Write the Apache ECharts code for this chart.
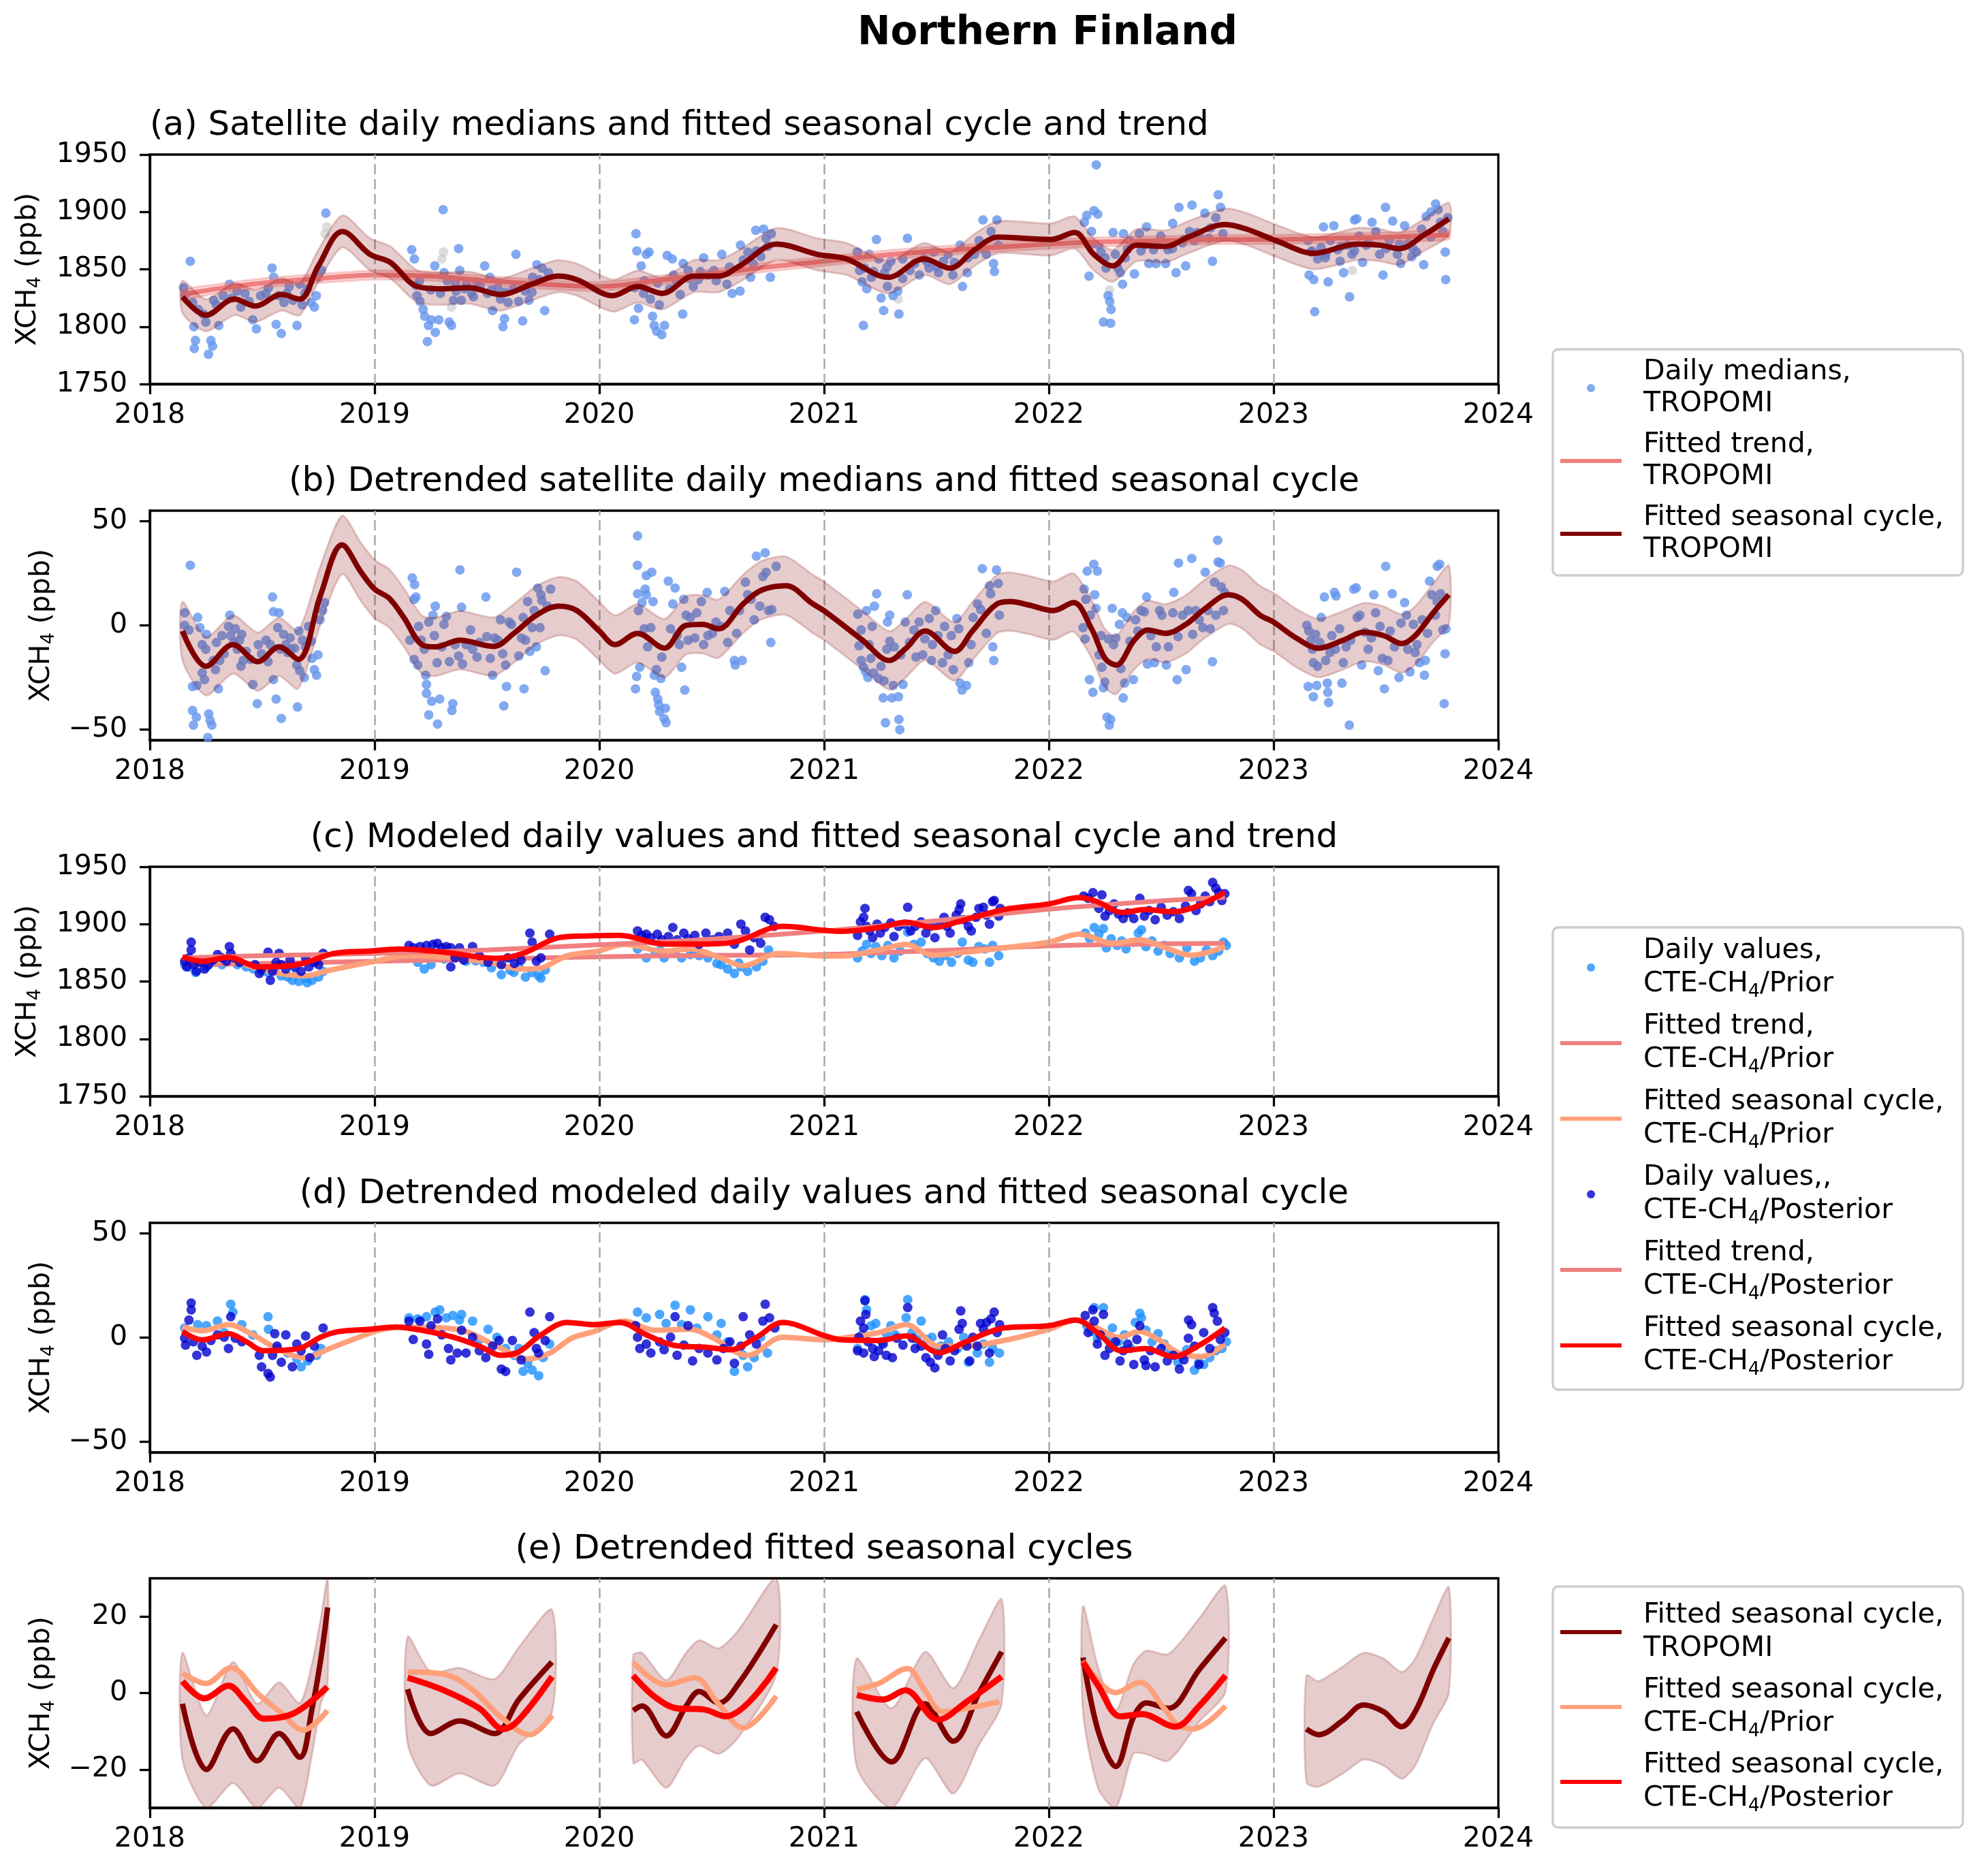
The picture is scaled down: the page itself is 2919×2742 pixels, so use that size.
<!DOCTYPE html>
<html>
<head>
<meta charset="utf-8">
<title>Northern Finland</title>
<script src="https://cdn.jsdelivr.net/npm/echarts@6/dist/echarts.min.js"></script>
<style>
  html, body { margin: 0; padding: 0; background: #fff; }
  #chart { width: 2919px; height: 2742px; }
</style>
</head>
<body>
<div id="chart"></div>
<script>
// values (x = decimal year)
const dividers = [2019, 2020, 2021, 2022, 2023]

// (a) TROPOMI daily medians, ppb
const tropDaily = [
  [2018.150,1834],[2018.157,1828],[2018.180,1857],[2018.191,1821],[2018.196,1800],[2018.203,1788],[2018.198,1781],[2018.215,1815],[2018.238,1811],[2018.249,1804],[2018.261,1776],[2018.272,1788],[2018.279,1783],[2018.284,1823],[2018.296,1819],[2018.307,1801],[2018.326,1827],[2018.354,1837],[2018.365,1825],[2018.388,1831],[2018.405,1817],[2018.423,1829],[2018.442,1822],[2018.458,1806],[2018.474,1798],[2018.493,1827],[2018.516,1829],[2018.528,1834],[2018.544,1851],[2018.551,1843],[2018.562,1802],[2018.574,1827],[2018.585,1794],[2018.597,1821],[2018.609,1829],[2018.620,1835],[2018.637,1823],[2018.655,1801],[2018.667,1837],[2018.678,1819],[2018.690,1829],[2018.702,1833],[2018.718,1821],[2018.732,1817],[2018.741,1827],[2018.753,1843],[2018.764,1849],[2018.783,1899],
  [2019.165,1867],[2019.177,1859],[2019.184,1836],[2019.189,1827],[2019.202,1822],[2019.216,1815],[2019.223,1809],[2019.235,1787],[2019.240,1801],[2019.253,1806],[2019.270,1795],[2019.268,1853],[2019.286,1806],[2019.293,1829],[2019.305,1902],[2019.309,1847],[2019.323,1840],[2019.332,1804],[2019.342,1801],[2019.351,1823],[2019.363,1831],[2019.374,1868],[2019.379,1849],[2019.386,1823],[2019.409,1837],[2019.432,1829],[2019.455,1839],[2019.490,1853],[2019.502,1829],[2019.513,1843],[2019.525,1814],[2019.548,1834],[2019.560,1824],[2019.571,1800],[2019.578,1807],[2019.594,1821],[2019.617,1833],[2019.629,1863],[2019.641,1822],[2019.659,1805],[2019.671,1831],[2019.687,1823],[2019.703,1843],[2019.722,1854],[2019.733,1841],[2019.745,1851],[2019.757,1814],[2019.773,1847],
  [2019.200,1840],[2019.250,1832],[2019.360,1838],[2019.400,1833],[2019.440,1826],[2019.470,1836],[2019.520,1832],[2019.580,1830],[2019.660,1836],[2019.700,1830],
  [2020.158,1834],[2020.163,1881],[2020.167,1866],[2020.156,1806],[2020.174,1816],[2020.186,1853],[2020.197,1829],[2020.209,1863],[2020.221,1865],[2020.227,1824],[2020.237,1809],[2020.244,1801],[2020.255,1796],[2020.267,1819],[2020.278,1793],[2020.290,1801],[2020.302,1862],[2020.313,1833],[2020.325,1859],[2020.343,1839],[2020.360,1828],[2020.371,1811],[2020.373,1855],[2020.395,1849],[2020.418,1835],[2020.441,1841],[2020.464,1860],[2020.487,1845],[2020.510,1849],[2020.545,1863],[2020.568,1837],[2020.591,1829],[2020.626,1831],[2020.628,1871],[2020.661,1865],[2020.673,1843],[2020.696,1884],[2020.731,1885],[2020.742,1877],[2020.761,1843],[2020.765,1881],[2020.719,1861],[2020.684,1855],
  [2020.200,1840],[2020.260,1838],[2020.330,1845],[2020.400,1842],[2020.450,1848],[2020.520,1840],[2020.580,1852],[2020.640,1858],[2020.700,1866],[2020.750,1870],
  [2021.148,1865],[2021.158,1849],[2021.169,1839],[2021.180,1851],[2021.190,1833],[2021.201,1863],[2021.211,1843],[2021.233,1876],[2021.243,1859],[2021.254,1825],[2021.265,1814],[2021.269,1847],[2021.282,1835],[2021.297,1857],[2021.307,1827],[2021.328,1831],[2021.333,1811],[2021.350,1859],[2021.371,1877],[2021.382,1849],[2021.403,1855],[2021.424,1845],[2021.445,1859],[2021.467,1851],[2021.488,1865],[2021.509,1847],[2021.531,1857],[2021.552,1863],[2021.573,1845],[2021.605,1871],[2021.616,1835],[2021.637,1847],[2021.669,1863],[2021.690,1875],[2021.707,1893],[2021.722,1863],[2021.743,1883],[2021.754,1855],[2021.758,1848],[2021.769,1893],[2021.775,1871],[2021.175,1801],
  [2021.220,1848],[2021.280,1852],[2021.350,1842],[2021.460,1856],[2021.500,1852],[2021.580,1856],[2021.640,1860],[2021.700,1868],
  [2022.158,1891],[2022.169,1897],[2022.179,1844],[2022.190,1883],[2022.201,1901],[2022.211,1941],[2022.218,1898],[2022.222,1871],[2022.232,1865],[2022.243,1804],[2022.254,1851],[2022.264,1827],[2022.271,1822],[2022.275,1803],[2022.277,1815],[2022.286,1882],[2022.296,1863],[2022.307,1851],[2022.318,1847],[2022.328,1837],[2022.332,1881],[2022.349,1867],[2022.360,1875],[2022.381,1846],[2022.403,1881],[2022.424,1871],[2022.435,1887],[2022.445,1855],[2022.466,1867],[2022.477,1855],[2022.498,1879],[2022.520,1855],[2022.530,1867],[2022.551,1890],[2022.566,1847],[2022.579,1904],[2022.594,1873],[2022.609,1853],[2022.626,1883],[2022.637,1906],[2022.647,1875],[2022.669,1879],[2022.694,1899],[2022.711,1877],[2022.728,1857],[2022.743,1895],[2022.754,1915],[2022.764,1904],[2022.775,1881],
  [2022.190,1872],[2022.250,1860],[2022.340,1860],[2022.410,1866],[2022.480,1872],[2022.550,1868],[2022.600,1876],[2022.660,1882],[2022.720,1886],
  [2023.153,1875],[2023.158,1845],[2023.168,1865],[2023.179,1841],[2023.183,1813],[2023.196,1859],[2023.211,1869],[2023.222,1887],[2023.232,1863],[2023.243,1839],[2023.253,1875],[2023.268,1888],[2023.285,1867],[2023.296,1857],[2023.311,1847],[2023.328,1871],[2023.338,1826],[2023.349,1863],[2023.360,1893],[2023.370,1894],[2023.381,1879],[2023.396,1856],[2023.413,1871],[2023.438,1891],[2023.455,1883],[2023.472,1863],[2023.487,1845],[2023.498,1904],[2023.515,1875],[2023.530,1892],[2023.551,1863],[2023.566,1855],[2023.583,1888],[2023.600,1873],[2023.615,1861],[2023.636,1865],[2023.658,1885],[2023.668,1854],[2023.679,1896],[2023.700,1900],[2023.721,1907],[2023.732,1902],[2023.743,1891],[2023.753,1883],[2023.764,1865],[2023.766,1841],[2023.775,1895],
  [2023.170,1866],[2023.230,1860],[2023.300,1870],[2023.360,1866],[2023.420,1874],[2023.500,1868],[2023.560,1872],[2023.620,1868],[2023.700,1878]
]
const tropExcluded = [[2018.787,1887],[2018.780,1881],[2019.307,1865],[2019.300,1859],[2019.342,1817],[2021.330,1824],[2022.270,1832],[2023.350,1849]]

const trendX = [2018.145, 2018.3, 2018.5, 2018.75, 2019.0, 2019.25, 2019.5, 2019.75, 2020.0, 2020.25, 2020.5, 2020.75, 2021.0, 2021.25, 2021.5, 2021.75, 2022.0, 2022.25, 2022.5, 2022.75, 2023.0, 2023.25, 2023.5, 2023.78]
const tropTrend = [1828, 1833, 1838, 1842, 1845, 1844, 1840, 1837, 1835, 1840, 1846, 1852, 1857, 1862, 1866, 1869, 1872, 1874, 1875, 1876, 1876, 1877, 1878, 1880]
const trendBandHalf = 4

const seasAX = [2018.145, 2018.25, 2018.376, 2018.47, 2018.585, 2018.667, 2018.75, 2018.857, 2018.98, 2019.07, 2019.19, 2019.3, 2019.42, 2019.56, 2019.7, 2019.815, 2019.9, 2020.06, 2020.17, 2020.28, 2020.42, 2020.53, 2020.625, 2020.79, 2020.97, 2021.1, 2021.285, 2021.445, 2021.56, 2021.67, 2021.775, 2022.01, 2022.115, 2022.2, 2022.285, 2022.39, 2022.52, 2022.62, 2022.785, 2022.88, 2023.01, 2023.18, 2023.37, 2023.475, 2023.56, 2023.67, 2023.78]
const tropSeasA = [1826, 1810, 1824, 1818, 1828, 1824, 1853, 1883, 1863, 1856, 1835, 1833, 1834, 1828, 1837, 1844, 1841, 1827, 1835, 1829, 1844, 1844, 1853, 1872, 1863, 1859, 1843, 1859, 1851, 1867, 1878, 1876, 1882, 1863, 1853, 1871, 1870, 1878, 1889, 1885, 1875, 1864, 1872, 1871, 1868, 1880, 1894]
const seasBandHalf = 14

// (b) detrended TROPOMI daily medians, ppb
const tropDetrended = [
  [2018.180,28.8],[2018.155,6],[2018.155,0],[2018.174,-2.2],[2018.190,-29.3],[2018.190,-40.8],[2018.194,-47.8],[2018.207,-44],[2018.209,-28.8],[2018.213,3.8],[2018.223,-1.1],[2018.233,-9.2],[2018.233,-22.8],[2018.243,-26],[2018.249,-11.4],[2018.252,-4.3],[2018.258,-53.8],[2018.262,-42.4],[2018.268,-45.6],[2018.276,-47.8],[2018.282,-16.8],[2018.292,-21.2],[2018.296,-8.2],[2018.305,-30.4],[2018.311,-16.8],[2018.321,-4.9],[2018.331,-13.6],[2018.350,-0.5],[2018.356,4.9],[2018.360,-4.9],[2018.374,-8.2],[2018.380,-1.6],[2018.389,-11.4],[2018.399,-7.1],[2018.405,-19.6],[2018.409,-4.3],[2018.415,-16.8],[2018.429,-12.5],[2018.448,-16.3],[2018.458,-28.3],[2018.478,-37.5],[2018.483,-9.2],[2018.497,-13.6],[2018.517,-7.1],[2018.526,-17.4],[2018.536,-9.2],[2018.546,13.6],[2018.550,6.5],[2018.550,-26],[2018.562,-35.3],[2018.569,-1.1],[2018.575,6],[2018.581,-11.4],[2018.585,-44.6],[2018.595,-4.3],[2018.605,-9.2],[2018.614,-13],[2018.624,-6],[2018.628,-11.4],[2018.644,-10.9],[2018.654,-19],[2018.657,-39.1],[2018.663,-2.7],[2018.667,-21.7],[2018.679,-7.1],[2018.687,-25],[2018.693,-10.3],[2018.706,-0.5],[2018.718,-7.6],[2018.722,-15.8],[2018.732,-21.2],[2018.742,-23.9],[2018.748,-14.1],[2018.757,2.7],[2018.769,7.1],[2018.777,10.9],
  [2019.157,-7.1],[2019.168,22.8],[2019.178,19.6],[2019.176,12.5],[2019.176,-16.3],[2019.184,13.6],[2019.192,-19],[2019.196,-0.5],[2019.207,-7.1],[2019.221,-11.4],[2019.227,-23.9],[2019.231,-28.3],[2019.231,-32.6],[2019.241,-42.9],[2019.241,1.6],[2019.254,-36.4],[2019.260,4.9],[2019.266,-4.9],[2019.270,9.2],[2019.278,-17.9],[2019.280,-47.3],[2019.290,-35.3],[2019.299,-10.3],[2019.309,0.5],[2019.319,4.3],[2019.333,-17.4],[2019.344,-40.8],[2019.348,-37.5],[2019.358,-9.2],[2019.374,-14.7],[2019.380,26.6],[2019.387,8.7],[2019.391,-18.5],[2019.407,-9.2],[2019.427,-2.2],[2019.436,-11.4],[2019.456,-15.2],[2019.466,-8.2],[2019.495,13.6],[2019.499,-5.4],[2019.515,-15.8],[2019.525,-23.9],[2019.534,-6],[2019.548,-7.1],[2019.560,2.7],[2019.570,-13.6],[2019.575,-38.6],[2019.583,-19],[2019.587,-29.3],[2019.599,1.6],[2019.609,0.5],[2019.632,25.5],[2019.642,-14.7],[2019.654,-6],[2019.661,3.8],[2019.665,-30.4],[2019.671,-7.1],[2019.681,11.4],[2019.691,-12.5],[2019.701,-1.1],[2019.710,7.1],[2019.720,-10.3],[2019.726,17.9],[2019.736,-1.1],[2019.740,14.7],[2019.744,12],[2019.759,-21.7],[2019.769,9.2],[2019.783,17.4],
  [2020.161,-30.4],[2020.166,-24.5],[2020.170,42.9],[2020.170,28.8],[2020.170,15.2],[2020.174,7.1],[2020.180,-20.1],[2020.190,10.9],[2020.200,-1.6],[2020.204,17.4],[2020.209,14.7],[2020.209,23.9],[2020.215,-10.3],[2020.229,-1.1],[2020.233,25.5],[2020.239,11.4],[2020.245,-23.9],[2020.249,-32.1],[2020.254,-21.2],[2020.260,-35.3],[2020.264,-38],[2020.268,-41.3],[2020.274,-25.5],[2020.278,-15.2],[2020.288,-44.6],[2020.297,-46.7],[2020.294,-39.7],[2020.307,21.2],[2020.317,-1.6],[2020.327,10.3],[2020.337,17.9],[2020.346,-4.9],[2020.356,-9.2],[2020.366,-20.1],[2020.376,12.5],[2020.380,-31],[2020.386,4.9],[2020.395,-7.1],[2020.405,3.8],[2020.425,-6],[2020.434,6],[2020.454,11.4],[2020.464,-9.2],[2020.480,15.8],[2020.483,-4.9],[2020.503,-3.8],[2020.519,1.6],[2020.542,-0.5],[2020.558,16.3],[2020.571,-8.2],[2020.581,7.1],[2020.601,-16.8],[2020.605,-19],[2020.611,-3.8],[2020.624,7.1],[2020.636,-16.8],[2020.650,20.7],[2020.660,14.7],[2020.675,12.5],[2020.689,2.7],[2020.699,33.2],[2020.714,9.2],[2020.728,23.4],[2020.738,34.8],[2020.742,25.5],[2020.753,7.1],[2020.763,-8.2],[2020.767,7.6],[2020.787,28.3],
  [2021.150,5.4],[2021.156,-9.8],[2021.165,-2.2],[2021.165,-16.8],[2021.175,-20.1],[2021.185,-22.3],[2021.189,7.1],[2021.195,-25],[2021.200,-9.2],[2021.208,-15.8],[2021.214,-0.5],[2021.220,-22.8],[2021.224,9.2],[2021.234,15.2],[2021.243,-25.5],[2021.253,-19.6],[2021.263,-34.8],[2021.267,-26.6],[2021.273,-46.7],[2021.279,-11.4],[2021.282,1.6],[2021.292,4.9],[2021.292,-7.6],[2021.302,-34.8],[2021.308,-28.8],[2021.312,-10.3],[2021.331,-34.2],[2021.333,-45.1],[2021.337,-50],[2021.341,-14.1],[2021.351,-28.3],[2021.361,1.6],[2021.370,14.7],[2021.380,-8.2],[2021.400,-2.2],[2021.409,-15.2],[2021.423,1.6],[2021.439,-14.1],[2021.448,-6.5],[2021.468,3.3],[2021.478,-16.8],[2021.482,-9.2],[2021.497,7.1],[2021.507,-4.9],[2021.527,-17.9],[2021.536,-0.5],[2021.552,-14.1],[2021.566,-4.9],[2021.575,-21.2],[2021.591,3.3],[2021.599,-1.6],[2021.605,-27.7],[2021.614,-31],[2021.634,-28.8],[2021.644,-17.9],[2021.654,-9.2],[2021.663,3.8],[2021.683,10.3],[2021.697,7.6],[2021.704,27.2],[2021.722,-3.8],[2021.736,19],[2021.741,15.2],[2021.751,-10.3],[2021.755,-16.8],[2021.767,26.6],[2021.775,20.1],[2021.780,4.9],
  [2022.152,-1.1],[2022.157,17.4],[2022.161,-6.5],[2022.165,12.5],[2022.171,26],[2022.181,-26],[2022.185,4.9],[2022.196,-32.1],[2022.200,29.3],[2022.204,14.7],[2022.210,8.2],[2022.216,26],[2022.224,-14.1],[2022.232,-4.9],[2022.236,-20.1],[2022.243,-29.9],[2022.249,-27.2],[2022.259,-44],[2022.265,-6.5],[2022.269,-47.8],[2022.275,-45.1],[2022.282,8.2],[2022.288,-9.2],[2022.298,-6],[2022.314,0.5],[2022.321,-20.7],[2022.327,6],[2022.331,-34.8],[2022.337,-27.7],[2022.347,3.8],[2022.361,-7.6],[2022.376,-26],[2022.386,2.7],[2022.396,-2.7],[2022.411,7.1],[2022.425,6.5],[2022.435,13.6],[2022.439,-18.5],[2022.454,-4.9],[2022.470,-17.9],[2022.478,-10.3],[2022.493,7.1],[2022.503,4.9],[2022.523,-19],[2022.532,-10.3],[2022.552,6],[2022.556,15.8],[2022.571,-26],[2022.575,-5.4],[2022.577,29.9],[2022.595,4.9],[2022.611,-21.2],[2022.620,7.1],[2022.636,32.1],[2022.640,-4.3],[2022.653,7.1],[2022.669,2.7],[2022.685,-1.1],[2022.696,25.5],[2022.708,7.1],[2022.718,-1.6],[2022.728,-17.4],[2022.737,20.7],[2022.743,4.9],[2022.751,40.8],[2022.753,30.4],[2022.763,29.9],[2022.767,18.5],[2022.777,7.1],[2022.782,15.8],
  [2023.148,0],[2023.154,-29.3],[2023.157,-2.7],[2023.167,-7.1],[2023.173,-11.4],[2023.177,-34.2],[2023.177,-17.9],[2023.187,-4.3],[2023.192,-28.8],[2023.196,-19.6],[2023.206,-8.2],[2023.212,3.8],[2023.226,13.6],[2023.232,-16.8],[2023.239,-27.7],[2023.241,-32.1],[2023.245,-37],[2023.251,-13],[2023.259,-4.9],[2023.271,15.8],[2023.275,-11.4],[2023.278,14.1],[2023.294,-1.6],[2023.304,-27.7],[2023.310,-17.9],[2023.323,-10.3],[2023.337,-47.8],[2023.343,-7.1],[2023.357,17.4],[2023.368,18],[2023.372,3.8],[2023.384,4.9],[2023.392,-19],[2023.407,-3.3],[2023.421,-11.4],[2023.435,-6],[2023.446,14.7],[2023.454,6],[2023.466,-21.7],[2023.474,-0.5],[2023.484,-15.8],[2023.493,-30.4],[2023.499,28.3],[2023.509,-16.8],[2023.519,-2.7],[2023.528,15.2],[2023.538,-10.3],[2023.558,-25],[2023.567,1.1],[2023.583,10.9],[2023.591,4.9],[2023.597,-11.4],[2023.607,-22.3],[2023.622,0.5],[2023.630,-13],[2023.638,-9.2],[2023.650,-17.9],[2023.661,2.7],[2023.671,-23.9],[2023.675,-16.8],[2023.685,-3.8],[2023.694,21.2],[2023.704,14.7],[2023.720,4.9],[2023.728,11.4],[2023.728,28.3],[2023.739,29.3],[2023.743,15.2],[2023.753,-2.2],[2023.759,-37.5],[2023.763,-13.6],[2023.767,-1.6]
]
const seasBX = [2018.145, 2018.25, 2018.37, 2018.48, 2018.575, 2018.66, 2018.76, 2018.855, 2018.94, 2019.0, 2019.065, 2019.13, 2019.21, 2019.27, 2019.38, 2019.53, 2019.62, 2019.72, 2019.82, 2019.9, 2020.0, 2020.07, 2020.17, 2020.29, 2020.385, 2020.46, 2020.53, 2020.64, 2020.72, 2020.83, 2020.95, 2021.0, 2021.17, 2021.29, 2021.36, 2021.45, 2021.58, 2021.66, 2021.77, 2021.83, 2021.91, 2022.02, 2022.11, 2022.19, 2022.25, 2022.3, 2022.38, 2022.44, 2022.52, 2022.61, 2022.69, 2022.8, 2022.86, 2022.94, 2023.0, 2023.1, 2023.2, 2023.31, 2023.4, 2023.49, 2023.57, 2023.63, 2023.71, 2023.78]
const tropSeasB = [-2.7, -19.6, -9.2, -17.4, -10.3, -16.3, 14.7, 38.6, 25.5, 17.4, 13, 3.8, -9.2, -10.3, -7.1, -10.1, -3.8, 4.9, 9.2, 7.1, -2.7, -9.2, -3.8, -10.9, 0, 0.5, -1.6, 10.3, 16.8, 19, 10.3, 7, -7, -16.8, -11.4, -2.7, -12.5, -2.7, 10.3, 11.4, 9.8, 7.1, 10.9, -1.6, -15.8, -19, -7.1, -2.2, -3.8, 0.5, 7.6, 14.7, 12.5, 4.9, 1.6, -6, -10.9, -7.1, -3.3, -4.9, -8.7, -4.9, 6, 14.7]

// (c) CTE-CH4 daily values, ppb
const priorDaily = [
  [2018.155,1864.7],[2018.204,1857.8],[2018.252,1862.7],[2018.321,1864.7],[2018.389,1864.7],[2018.526,1857.8],[2018.585,1854.9],[2018.634,1851],[2018.663,1850],[2018.693,1853],[2018.722,1851],[2018.751,1853.9],[2018.771,1858.8],[2018.614,1853.9],[2018.556,1860.8],[2018.429,1862.7],[2018.174,1862.7],[2018.292,1866.7],[2018.460,1861],[2018.500,1859],[2018.650,1856],[2018.700,1849],
  [2019.221,1860.8],[2019.251,1864.7],[2019.407,1867.6],[2019.485,1866.7],[2019.564,1855.9],[2019.603,1859.8],[2019.642,1862.7],[2019.671,1853.9],[2019.701,1857.8],[2019.730,1854.9],[2019.740,1852.9],[2019.192,1866.7],[2019.309,1869.6],[2019.160,1872],[2019.280,1871],[2019.360,1872],[2019.450,1868],[2019.520,1862],[2019.620,1858],[2019.760,1860],
  [2020.170,1878.4],[2020.209,1870.6],[2020.249,1874.5],[2020.288,1870.6],[2020.337,1874.5],[2020.366,1870.6],[2020.405,1873.5],[2020.444,1872.5],[2020.483,1870.6],[2020.542,1864.7],[2020.571,1860.8],[2020.601,1856.9],[2020.630,1862.7],[2020.660,1858.8],[2020.699,1862.7],[2020.728,1867.6],[2020.753,1877.5],[2020.523,1865.7],[2020.190,1881],[2020.270,1877],[2020.420,1877],[2020.620,1866],
  [2021.149,1870.6],[2021.169,1876.5],[2021.189,1882.4],[2021.209,1874.5],[2021.230,1880.4],[2021.257,1872.5],[2021.284,1881.4],[2021.311,1870.6],[2021.338,1876.5],[2021.372,1893.1],[2021.399,1882.4],[2021.432,1884.3],[2021.459,1874.5],[2021.486,1870.6],[2021.513,1867.6],[2021.540,1872.5],[2021.567,1866.7],[2021.594,1874.5],[2021.615,1884.3],[2021.642,1868.6],[2021.662,1866.7],[2021.689,1880.4],[2021.716,1878.4],[2021.736,1866.7],[2021.750,1881.4],[2021.777,1872.5],
  [2022.162,1892.2],[2022.182,1887.3],[2022.202,1897.1],[2022.223,1891.2],[2022.243,1896.1],[2022.256,1879.4],[2022.277,1887.3],[2022.304,1881.4],[2022.324,1885.3],[2022.344,1878.4],[2022.378,1884.3],[2022.398,1892.2],[2022.412,1895.1],[2022.432,1880.4],[2022.459,1885.3],[2022.486,1876.5],[2022.513,1881.4],[2022.540,1874.5],[2022.581,1870.6],[2022.614,1879.4],[2022.648,1867.6],[2022.675,1870.6],[2022.702,1877.5],[2022.729,1872.5],[2022.756,1876.5],[2022.777,1884.3],[2022.790,1881.4]
]
const postDaily = [
  [2018.184,1884.3],[2018.184,1877.5],[2018.155,1867.6],[2018.164,1862.7],[2018.174,1870.6],[2018.194,1864.7],[2018.207,1858.8],[2018.223,1866.7],[2018.243,1860.8],[2018.262,1864.7],[2018.282,1868.6],[2018.301,1873.5],[2018.321,1870.6],[2018.341,1867.6],[2018.354,1880.4],[2018.360,1874.5],[2018.374,1870.6],[2018.399,1866.7],[2018.468,1864.7],[2018.487,1856.9],[2018.497,1860.8],[2018.526,1875.5],[2018.536,1851],[2018.546,1858.8],[2018.562,1866.7],[2018.575,1874.5],[2018.585,1864.7],[2018.605,1860.8],[2018.624,1868.6],[2018.644,1862.7],[2018.673,1858.8],[2018.693,1870.6],[2018.708,1862.7],[2018.732,1866.7],[2018.751,1864.7],[2018.771,1874.5],
  [2019.153,1881.4],[2019.172,1879.4],[2019.202,1880.4],[2019.231,1881.4],[2019.260,1882.4],[2019.280,1883.3],[2019.299,1879.4],[2019.319,1880.4],[2019.339,1879.4],[2019.358,1870.6],[2019.378,1879.4],[2019.397,1868.6],[2019.436,1880.4],[2019.466,1872.5],[2019.505,1866.7],[2019.564,1864.7],[2019.593,1870.6],[2019.622,1865.7],[2019.652,1868.6],[2019.691,1892.2],[2019.701,1884.3],[2019.720,1867.6],[2019.740,1870.6],[2019.779,1891.2],[2019.339,1862.7],
  [2020.170,1894.1],[2020.190,1890.2],[2020.209,1891.2],[2020.229,1888.2],[2020.258,1891.2],[2020.278,1886.3],[2020.307,1889.2],[2020.327,1897.1],[2020.346,1886.3],[2020.376,1892.2],[2020.395,1887.3],[2020.425,1890.2],[2020.444,1882.4],[2020.474,1892.2],[2020.503,1886.3],[2020.532,1889.2],[2020.571,1892.2],[2020.601,1882.4],[2020.630,1900],[2020.650,1894.1],[2020.669,1877.5],[2020.689,1888.2],[2020.718,1883.3],[2020.738,1905.9],[2020.757,1903.9],[2020.777,1898],[2020.718,1891.2],
  [2021.149,1890.2],[2021.162,1902],[2021.176,1905.9],[2021.182,1913.7],[2021.189,1898],[2021.203,1894.1],[2021.216,1888.2],[2021.236,1900],[2021.250,1892.2],[2021.270,1897.1],[2021.297,1901],[2021.311,1889.2],[2021.331,1898],[2021.358,1900],[2021.372,1914.7],[2021.385,1894.1],[2021.405,1898],[2021.432,1902],[2021.453,1892.2],[2021.473,1898],[2021.493,1888.2],[2021.513,1900],[2021.534,1905.9],[2021.547,1898],[2021.561,1892.2],[2021.588,1907.8],[2021.601,1912.7],[2021.608,1917.6],[2021.621,1903.9],[2021.642,1898],[2021.655,1894.1],[2021.676,1905.9],[2021.689,1913.7],[2021.709,1914.7],[2021.723,1907.8],[2021.736,1900],[2021.750,1919.6],[2021.757,1920.6],[2021.777,1906.9],[2021.784,1913.7],
  [2022.155,1924.5],[2022.175,1922.5],[2022.196,1927.5],[2022.209,1917.6],[2022.223,1913.7],[2022.236,1925.5],[2022.250,1906.9],[2022.270,1911.8],[2022.290,1917.6],[2022.310,1908.8],[2022.331,1904.9],[2022.351,1909.8],[2022.378,1904.9],[2022.405,1922.5],[2022.425,1906.9],[2022.446,1911.8],[2022.473,1903.9],[2022.500,1914.7],[2022.527,1907.8],[2022.554,1910.8],[2022.581,1904.9],[2022.608,1915.7],[2022.621,1929.4],[2022.635,1926.5],[2022.655,1911.8],[2022.675,1917.6],[2022.696,1924.5],[2022.716,1919.6],[2022.729,1936.3],[2022.743,1931.4],[2022.756,1927.5],[2022.770,1920.6],[2022.783,1926.5]
]
const modelTrendX = [2018.145, 2018.5, 2019.0, 2019.5, 2020.0, 2020.5, 2021.0, 2021.5, 2022.0, 2022.4, 2022.784]
const priorTrend = [1864.5, 1865.8, 1867.6, 1869.6, 1871.5, 1872.8, 1873.5, 1877, 1881, 1882.5, 1883.3]
const postTrend = [1870.6, 1872.5, 1874.5, 1877.5, 1882, 1887, 1894, 1903, 1913, 1919, 1923.5]
const priorSeasCX = [2018.145, 2018.233, 2018.35, 2018.487, 2018.683, 2018.8, 2018.977, 2019.15, 2019.35, 2019.505, 2019.66, 2019.74, 2019.857, 2019.994, 2020.11, 2020.29, 2020.405, 2020.54, 2020.64, 2020.797, 2021.0, 2021.08, 2021.243, 2021.365, 2021.486, 2021.58, 2021.8, 2022.0, 2022.135, 2022.284, 2022.405, 2022.527, 2022.635, 2022.784]
const priorSeasC = [1868.6, 1865.7, 1868.6, 1860.8, 1854.9, 1859.8, 1866.7, 1872.5, 1870.6, 1866.7, 1860.8, 1861.8, 1872.5, 1876.5, 1882.4, 1876.5, 1878.4, 1870.6, 1863.7, 1874.5, 1872.2, 1872.2, 1877.5, 1882.4, 1872.9, 1874.5, 1879.4, 1884.3, 1891.2, 1883.3, 1886.3, 1878.8, 1872.9, 1880.4]
const postSeasCX = [2018.145, 2018.233, 2018.35, 2018.487, 2018.663, 2018.82, 2018.977, 2019.113, 2019.31, 2019.544, 2019.66, 2019.82, 2019.955, 2020.09, 2020.288, 2020.483, 2020.6, 2020.816, 2021.008, 2021.08, 2021.243, 2021.365, 2021.486, 2021.595, 2021.8, 2022.0, 2022.135, 2022.216, 2022.324, 2022.43, 2022.554, 2022.662, 2022.784]
const postSeasC = [1871.6, 1867.6, 1871, 1862.7, 1865, 1874.5, 1876.5, 1878.4, 1875.5, 1870.2, 1874.5, 1888.2, 1889.8, 1890.2, 1882.7, 1882.7, 1884.3, 1898, 1894.5, 1893.7, 1897, 1901.6, 1897, 1902, 1912.7, 1917.6, 1923.1, 1919.6, 1910.2, 1912.7, 1910.8, 1915.7, 1927.8]

// (d) detrended CTE-CH4 daily values, ppb
const priorDetr = [
  [2018.155,4.6],[2018.213,6.2],[2018.252,5.7],[2018.301,7.9],[2018.360,16],[2018.370,12.2],[2018.409,6.2],[2018.526,10],[2018.528,4],[2018.566,-5.2],[2018.614,-7.4],[2018.654,-10.2],[2018.673,-14],[2018.703,-11.2],[2018.742,-8.5],[2018.761,-5.2],[2018.458,1.3],[2018.331,2.4],
  [2019.153,9.5],[2019.192,9],[2019.231,10],[2019.270,12.2],[2019.290,13.3],[2019.319,9.5],[2019.348,10.6],[2019.378,8.4],[2019.387,11.1],[2019.436,7.9],[2019.466,-0.9],[2019.505,4],[2019.544,0.2],[2019.583,-5.2],[2019.622,-8.5],[2019.661,-16.2],[2019.681,-12.3],[2019.701,-15.6],[2019.730,-18.3],[2019.750,-9.6],[2019.779,-3.1],[2019.642,-5.2],
  [2020.170,12.2],[2020.209,9.5],[2020.268,11.1],[2020.297,6.8],[2020.337,15.5],[2020.366,6.2],[2020.405,13.3],[2020.434,4.6],[2020.483,10],[2020.523,1.3],[2020.542,6.8],[2020.571,-2],[2020.601,-16.2],[2020.640,-8.5],[2020.660,-14],[2020.689,-9.6],[2020.718,0.2],[2020.748,-7.4],
  [2021.149,-5.2],[2021.169,1.3],[2021.182,18.2],[2021.189,13.3],[2021.209,5.7],[2021.230,6.8],[2021.257,-2],[2021.277,1.9],[2021.297,5.7],[2021.317,1.3],[2021.365,9.5],[2021.372,18.2],[2021.392,2.4],[2021.412,-0.9],[2021.432,7.9],[2021.459,-0.9],[2021.480,0.2],[2021.500,-5.2],[2021.520,-4.1],[2021.554,-2],[2021.594,-5.2],[2021.621,0.2],[2021.642,-11.8],[2021.682,-7.4],[2021.709,-3.1],[2021.736,-11.8],[2021.750,-5.2],[2021.780,-7.4],
  [2022.169,5.7],[2022.189,2.9],[2022.202,14.4],[2022.216,-0.3],[2022.243,14.4],[2022.263,-0.9],[2022.283,4.6],[2022.310,-2],[2022.337,1.3],[2022.364,-5.2],[2022.385,7.3],[2022.405,11.7],[2022.412,9.5],[2022.432,3.5],[2022.459,-2],[2022.486,1.9],[2022.513,-3.1],[2022.540,-6.9],[2022.574,-11.8],[2022.594,-8.5],[2022.614,-5.8],[2022.648,-15.6],[2022.668,-11.8],[2022.689,-12.9],[2022.716,-9.6],[2022.743,-6.3],[2022.770,-5.2],[2022.790,-2]
]
const postDetr = [
  [2018.184,16.6],[2018.184,13.3],[2018.174,8.4],[2018.155,-0.3],[2018.159,-3.6],[2018.194,-2],[2018.209,-8.5],[2018.233,-4.1],[2018.252,-6.9],[2018.272,-1.4],[2018.301,1.3],[2018.331,0.2],[2018.350,-5.2],[2018.360,10],[2018.380,-0.3],[2018.409,-2],[2018.497,-14],[2018.526,-17.2],[2018.536,-18.9],[2018.546,-8.5],[2018.556,1.9],[2018.566,-4.1],[2018.585,-11.8],[2018.605,1.3],[2018.634,-14],[2018.654,-3.1],[2018.673,-6.3],[2018.693,0.8],[2018.712,-9.6],[2018.732,-4.1],[2018.771,4.6],[2018.487,-8.5],
  [2019.153,7.9],[2019.172,-0.9],[2019.202,7.9],[2019.231,-3.1],[2019.241,-8],[2019.251,5.7],[2019.280,9],[2019.299,1.3],[2019.329,-5.2],[2019.339,-10.7],[2019.368,-7.4],[2019.387,3.5],[2019.407,-7.4],[2019.436,0.2],[2019.466,-6.3],[2019.495,-9.6],[2019.525,-4.1],[2019.554,-1.4],[2019.564,-15.1],[2019.583,-16.2],[2019.613,-1.4],[2019.652,-10.7],[2019.691,12.2],[2019.710,2.4],[2019.730,-7.4],[2019.759,-1.4],[2019.779,10],[2019.720,-5.2],
  [2020.161,5.7],[2020.170,0.2],[2020.180,-5.2],[2020.209,-3.1],[2020.229,-7.4],[2020.268,-2],[2020.288,-5.8],[2020.317,0.2],[2020.337,10],[2020.346,-8.5],[2020.376,-3.6],[2020.395,5.7],[2020.415,-11.2],[2020.444,-5.2],[2020.483,-7.4],[2020.523,-10.7],[2020.552,-5.2],[2020.581,-2],[2020.601,-12.3],[2020.630,-4.1],[2020.640,10],[2020.669,1.3],[2020.699,-3.1],[2020.728,7.9],[2020.738,16],[2020.757,9.5],[2020.781,4.6],
  [2021.155,0.2],[2021.162,7.9],[2021.176,4.6],[2021.182,17.7],[2021.186,11.1],[2021.149,-6.3],[2021.176,-7.4],[2021.196,-2],[2021.216,-5.2],[2021.223,-9.1],[2021.243,-6.3],[2021.263,-3.1],[2021.277,-8.5],[2021.304,-9.6],[2021.324,-0.3],[2021.351,-3.6],[2021.372,14.4],[2021.392,-0.3],[2021.405,-5.2],[2021.432,-4.1],[2021.453,-9.6],[2021.473,-11.8],[2021.493,-14.5],[2021.507,-8.5],[2021.527,1.3],[2021.540,-5.2],[2021.561,-11.2],[2021.581,-6.3],[2021.601,4],[2021.608,12.8],[2021.615,6.8],[2021.635,-4.1],[2021.648,-11.2],[2021.662,0.2],[2021.682,-4.1],[2021.696,6.8],[2021.709,4],[2021.723,7.3],[2021.736,-7.4],[2021.743,9],[2021.757,12.2],[2021.781,6.2],[2021.770,2.4],
  [2022.162,10.6],[2022.175,2.4],[2022.196,13.3],[2022.202,7.9],[2022.216,-3.1],[2022.229,1.3],[2022.243,11.1],[2022.250,-8.5],[2022.270,-5.2],[2022.297,-2],[2022.317,-11.2],[2022.331,-6.3],[2022.351,-3.1],[2022.378,-12.9],[2022.392,-0.9],[2022.405,5.7],[2022.425,-10.7],[2022.432,-13.4],[2022.452,-6.3],[2022.473,-14],[2022.500,-5.2],[2022.527,-11.2],[2022.554,-8.5],[2022.581,-15.1],[2022.601,-10.7],[2022.621,-0.3],[2022.622,8.4],[2022.635,6.2],[2022.648,-4.1],[2022.668,-12.9],[2022.689,2.4],[2022.716,-5.2],[2022.729,14.4],[2022.736,11.7],[2022.750,7.9],[2022.763,-0.9],[2022.783,2.4]
]
const priorSeasDX = [2018.145, 2018.233, 2018.35, 2018.45, 2018.565, 2018.69, 2018.8, 2018.918, 2019.035, 2019.153, 2019.31, 2019.407, 2019.544, 2019.68, 2019.78, 2019.877, 2019.975, 2020.11, 2020.247, 2020.405, 2020.5, 2020.66, 2020.816, 2021.0, 2021.08, 2021.243, 2021.365, 2021.513, 2021.62, 2021.8, 2022.0, 2022.12, 2022.216, 2022.31, 2022.405, 2022.486, 2022.58, 2022.676, 2022.784]
const priorSeasD = [5.1, 3.3, 6.2, 1.9, -5.2, -9.6, -5.2, -0.3, 4, 5.1, 4.6, 2.9, -4.1, -10.2, -7.4, -0.3, 2.9, 7.9, 3.5, 4, 0.2, -8.5, 0.2, -1, -0.3, 2.4, 6.2, -4.1, -4.1, -1.4, 4, 8.4, 4.6, 0.2, 2.9, -0.9, -7.4, -9.1, -3.1]
const postSeasDX = [2018.145, 2018.233, 2018.35, 2018.43, 2018.507, 2018.663, 2018.76, 2018.84, 2018.977, 2019.094, 2019.21, 2019.35, 2019.466, 2019.564, 2019.64, 2019.74, 2019.857, 2019.975, 2020.09, 2020.21, 2020.327, 2020.483, 2020.58, 2020.7, 2020.816, 2021.0, 2021.08, 2021.243, 2021.365, 2021.513, 2021.62, 2021.8, 2022.0, 2022.12, 2022.216, 2022.324, 2022.43, 2022.554, 2022.662, 2022.784]
const postSeasD = [2.9, -1.1, 1.9, -2, -6.3, -5.2, 0.2, 2.9, 4, 5.1, 3.5, 0.2, -4.1, -8.5, -6.9, 1.3, 7.3, 6.2, 7.3, 1.3, -3.6, -4.7, -5.8, 0.2, 7.3, 1, -1.1, -1.4, 0.8, -7.2, -2.5, 4.6, 5.7, 8.4, 2.4, -6.3, -5.2, -9.1, -4.1, 4.6]

// (e) detrended fitted seasonal cycles, one segment per observing season
const eTropX = [
  [2018.145, 2018.252, 2018.37, 2018.477, 2018.575, 2018.667, 2018.722, 2018.761, 2018.791],
  [2019.147, 2019.25, 2019.378, 2019.534, 2019.642, 2019.789],
  [2020.151, 2020.19, 2020.298, 2020.386, 2020.444, 2020.532, 2020.62, 2020.787],
  [2021.145, 2021.3, 2021.45, 2021.575, 2021.69, 2021.79],
  [2022.152, 2022.22, 2022.298, 2022.376, 2022.434, 2022.532, 2022.669, 2022.786],
  [2023.146, 2023.2, 2023.31, 2023.4, 2023.49, 2023.57, 2023.63, 2023.71, 2023.78]
]
const eTrop = [
  [-2.8, -20, -9.4, -17.7, -10.6, -16.8, -4, 9, 22.4],
  [1, -10.6, -7.3, -10.6, -1.7, 8.1],
  [-4.6, -3.4, -11.2, -3.4, 0.4, -2.6, 2.5, 17.9],
  [-4.9, -18, -2.8, -12.6, 0.1, 10.8],
  [9.3, -10, -19.2, -6.4, -2.6, -4, 6.1, 14.4],
  [-9.4, -10.9, -7.1, -3.1, -4.9, -8.8, -4.9, 6, 14.4]
]
const eTropHi = [
  [10.5, -5.8, 8.1, -2.8, 2.8, -2.6, 7.8, 19.7, 34],
  [14.7, 5.5, 6.6, 3.7, 12, 21.8],
  [9.9, 10.5, 3.4, 10.5, 13.8, 11.7, 16.5, 32],
  [9, -4, 10.8, 1.3, 14, 24.5],
  [22.7, 6.6, -4.5, 7.5, 11.1, 10.2, 19.5, 28],
  [4.6, 3.1, 7, 10.5, 9, 5.5, 9, 19.5, 27.7]
]
const eTropLo = [
  [-17.4, -34, -23.6, -31, -24.8, -30, -15.9, -2.8, 2],
  [-13.2, -24.2, -21, -24.2, -13.5, -5.2],
  [-18.3, -17.5, -24.8, -17, -13.8, -15.9, -11.5, 4.9],
  [-19.2, -30.7, -17.1, -26.3, -13.5, -2.8],
  [-4.9, -25, -33, -15.9, -16, -17.7, -7.5, 0.4],
  [-23.3, -24.5, -21, -17.4, -19, -22.4, -19, -8, 0.1]
]
const ePriorX = [
  [2018.145, 2018.25, 2018.36, 2018.487, 2018.585, 2018.683, 2018.79],
  [2019.147, 2019.31, 2019.427, 2019.564, 2019.691, 2019.79],
  [2020.15, 2020.297, 2020.425, 2020.523, 2020.64, 2020.787],
  [2021.146, 2021.243, 2021.37, 2021.448, 2021.527, 2021.634, 2021.78],
  [2022.152, 2022.298, 2022.405, 2022.513, 2022.571, 2022.64, 2022.786]
]
const ePrior = [
  [5.2, 2.5, 6.6, -0.5, -5.2, -9.7, -4.6],
  [5.5, 4.9, 1.3, -6.4, -10.9, -5.8],
  [8.1, 2.2, 4, -2.3, -9.1, -0.8],
  [1, 2.5, 6.4, 0.7, -4.9, -4, -2.3],
  [8.4, 0.1, 2.8, -4, -8.2, -9.4, -3.4]
]
const ePostX = [
  [2018.145, 2018.243, 2018.35, 2018.429, 2018.507, 2018.644, 2018.79],
  [2019.147, 2019.309, 2019.466, 2019.573, 2019.642, 2019.79],
  [2020.15, 2020.249, 2020.346, 2020.464, 2020.562, 2020.787],
  [2021.146, 2021.263, 2021.361, 2021.507, 2021.634, 2021.79],
  [2022.152, 2022.22, 2022.318, 2022.415, 2022.562, 2022.669, 2022.786]
]
const ePost = [
  [3.1, -1.4, 1.9, -2.3, -6.7, -5.2, 1.6],
  [4, 0.7, -4, -9.4, -7, 4.3],
  [4.6, -1.1, -4, -4.3, -6.1, 6.6],
  [-0.5, -1.7, 0.7, -7, -2.3, 4.3],
  [8.1, 1.9, -6.1, -5.5, -8.8, -3.4, 4.6]
]

// ---- styling ----
const FONT = 'DejaVu Sans'
const C = {
  trop: '#6495ed', excluded: 'rgba(200,200,200,0.8)', seas: '#800000', trend: '#f08080',
  prior: '#1e90ff', post: '#0000cd', priorSeas: '#ffa07a', postSeas: '#ff0000'
}
const N = {
  tropDaily: 'Daily medians,\nTROPOMI',
  tropTrend: 'Fitted trend,\nTROPOMI',
  tropSeas: 'Fitted seasonal cycle,\nTROPOMI',
  priorDaily: 'Daily values,\nCTE-CH4/Prior',
  priorTrend: 'Fitted trend,\nCTE-CH4/Prior',
  priorSeas: 'Fitted seasonal cycle,\nCTE-CH4/Prior',
  postDaily: 'Daily values,,\nCTE-CH4/Posterior',
  postTrend: 'Fitted trend,\nCTE-CH4/Posterior',
  postSeas: 'Fitted seasonal cycle,\nCTE-CH4/Posterior'
}
const gridTops = [227, 750, 1273, 1796, 2318]
const subRich = { sub: { fontSize: 27, lineHeight: 28, verticalAlign: 'bottom', fontFamily: FONT, color: '#000' } }

const pairs = (xs, ys) => xs.map((x, i) => [x, ys[i]])
const minus = v => (v < 0 ? '\u2212' + Math.abs(v) : String(v))

function scatter(axis, name, data, color, z) {
  return { type: 'scatter', name: name, xAxisIndex: axis, yAxisIndex: axis, data: data,
    symbolSize: 14, itemStyle: { color: color }, color: color, z: z, silent: true }
}
function line(axis, name, data, color, width, z) {
  return { type: 'line', name: name, xAxisIndex: axis, yAxisIndex: axis, data: data,
    smooth: 0.35, symbol: 'none', showSymbol: false, color: color,
    lineStyle: { color: color, width: width }, z: z, silent: true }
}
// filled band between lo/hi, one polygon per segment
function band(axis, segs, fill, stroke, z) {
  return {
    type: 'custom', xAxisIndex: axis, yAxisIndex: axis, z: z, silent: true,
    data: [[2020, 0]],
    renderItem: function (params, api) {
      const cs = params.coordSys
      const rect = { x: cs.x, y: cs.y, width: cs.width, height: cs.height }
      const children = segs.map(function (s) {
        const pts = []
        for (let i = 0; i < s.x.length; i++) pts.push(api.coord([s.x[i], s.hi[i]]))
        for (let i = s.x.length - 1; i >= 0; i--) pts.push(api.coord([s.x[i], s.lo[i]]))
        return { type: 'polygon', shape: { points: echarts.graphic.clipPointsByRect(pts, rect), smooth: 0.25 },
          style: { fill: fill, stroke: stroke, lineWidth: 3 } }
      })
      return { type: 'group', children: children }
    }
  }
}
const around = (xs, ys, half) => ({ x: xs, lo: ys.map(v => v - half), hi: ys.map(v => v + half) })
const dashes = {
  silent: true, symbol: ['none', 'none'], label: { show: false },
  lineStyle: { color: '#a9a9a9', type: [15, 7], width: 2.5 },
  data: dividers.map(v => ({ xAxis: v }))
}

const BAND_FILL = 'rgba(128,0,0,0.2)'
const BAND_EDGE = 'rgba(128,0,0,0.18)'

const series = []
// (a)
series.push(scatter(0, 'excluded', tropExcluded, C.excluded, 1))
series.push(Object.assign(scatter(0, N.tropDaily, tropDaily, C.trop, 2), { markLine: dashes }))
series.push(band(0, [around(trendX, tropTrend, trendBandHalf)], 'rgba(240,128,128,0.35)', 'rgba(240,128,128,0.3)', 3))
series.push(line(0, N.tropTrend, pairs(trendX, tropTrend), C.trend, 7, 4))
series.push(band(0, [around(seasAX, tropSeasA, seasBandHalf)], BAND_FILL, BAND_EDGE, 5))
series.push(line(0, N.tropSeas, pairs(seasAX, tropSeasA), C.seas, 8, 6))
// (b)
series.push(Object.assign(scatter(1, N.tropDaily, tropDetrended, C.trop, 2), { markLine: dashes }))
series.push(band(1, [around(seasBX, tropSeasB, seasBandHalf)], BAND_FILL, BAND_EDGE, 5))
series.push(line(1, N.tropSeas, pairs(seasBX, tropSeasB), C.seas, 8, 6))
// (c)
series.push(Object.assign(scatter(2, N.priorDaily, priorDaily, C.prior, 2), { markLine: dashes }))
series.push(line(2, N.priorTrend, pairs(modelTrendX, priorTrend), C.trend, 7, 3))
series.push(line(2, N.priorSeas, pairs(priorSeasCX, priorSeasC), C.priorSeas, 8, 4))
series.push(scatter(2, N.postDaily, postDaily, C.post, 5))
series.push(line(2, N.postTrend, pairs(modelTrendX, postTrend), C.trend, 7, 6))
series.push(line(2, N.postSeas, pairs(postSeasCX, postSeasC), C.postSeas, 8, 7))
// (d)
series.push(Object.assign(scatter(3, N.priorDaily, priorDetr, C.prior, 2), { markLine: dashes }))
series.push(line(3, N.priorSeas, pairs(priorSeasDX, priorSeasD), C.priorSeas, 8, 4))
series.push(scatter(3, N.postDaily, postDetr, C.post, 5))
series.push(line(3, N.postSeas, pairs(postSeasDX, postSeasD), C.postSeas, 8, 7))
// (e)
series.push(band(4, eTropX.map((xs, k) => ({ x: xs, lo: eTropLo[k], hi: eTropHi[k] })), BAND_FILL, BAND_EDGE, 2))
eTropX.forEach((xs, k) => {
  const s = line(4, N.tropSeas, pairs(xs, eTrop[k]), C.seas, 8, 3)
  if (k === 0) s.markLine = dashes
  series.push(s)
})
ePriorX.forEach((xs, k) => series.push(line(4, N.priorSeas, pairs(xs, ePrior[k]), C.priorSeas, 8, 4)))
ePostX.forEach((xs, k) => series.push(line(4, N.postSeas, pairs(xs, ePost[k]), C.postSeas, 9, 5)))

const grids = gridTops.map(t => ({ left: 220, width: 1980, top: t, height: 337, show: true,
  borderColor: '#000', borderWidth: 3.3, backgroundColor: 'transparent' }))

const xAxes = gridTops.map((t, i) => ({
  type: 'value', gridIndex: i, min: 2018, max: 2024, interval: 1,
  axisLine: { show: true, onZero: false, lineStyle: { color: '#000', width: 3.3 } },
  axisTick: { show: true, length: 15, lineStyle: { color: '#000', width: 3.3 } },
  axisLabel: { fontSize: 41, fontFamily: FONT, color: '#000', margin: 26, formatter: v => String(v) },
  splitLine: { show: false }
}))

const yName = 'XCH{sub|4} (ppb)'
function yAxis(i, min, max, ticks, gap) {
  return {
    type: 'value', gridIndex: i, min: min, max: max,
    name: yName, nameLocation: 'middle', nameRotate: 90, nameGap: gap,
    nameTextStyle: { fontSize: 41, fontFamily: FONT, color: '#000', lineHeight: 47, rich: subRich },
    axisLine: { show: true, onZero: false, lineStyle: { color: '#000', width: 3.3 } },
    axisTick: { show: true, length: 15, lineStyle: { color: '#000', width: 3.3 }, customValues: ticks },
    axisLabel: { fontSize: 41, fontFamily: FONT, color: '#000', margin: 33, formatter: minus, customValues: ticks },
    splitLine: { show: false }
  }
}
const yAxes = [
  yAxis(0, 1750, 1950, [1750, 1800, 1850, 1900, 1950], 155),
  yAxis(1, -55, 55, [-50, 0, 50], 135),
  yAxis(2, 1750, 1950, [1750, 1800, 1850, 1900, 1950], 155),
  yAxis(3, -55, 55, [-50, 0, 50], 135),
  yAxis(4, -30, 30, [-20, 0, 20], 135)
]

const LINE_ICON = 'path://M0,0H90V6H0Z'
function legendItem(name, color, dot) {
  return { name: name, icon: dot ? 'circle' : LINE_ICON, itemStyle: { color: color, borderWidth: 0 } }
}
function legend(top, items, lineHeight, gap, pad) {
  return {
    orient: 'vertical', left: 2280, top: top, itemWidth: 90, itemHeight: 12, itemGap: gap,
    selectedMode: false, backgroundColor: '#fff', borderColor: '#cccccc', borderWidth: 3.3, borderRadius: 8,
    padding: pad,
    textStyle: { fontFamily: FONT, fontSize: 41, color: '#000', lineHeight: lineHeight, padding: [0, 0, 0, 27], rich: subRich },
    formatter: name => name.replace('CH4', 'CH{sub|4}'),
    data: items
  }
}
const legends = [
  legend(513, [legendItem(N.tropDaily, C.trop, true), legendItem(N.tropTrend, C.trend), legendItem(N.tropSeas, C.seas)], 47, 13, [10, 28, 14, 11]),
  legend(1362, [legendItem(N.priorDaily, C.prior, true), legendItem(N.priorTrend, C.trend), legendItem(N.priorSeas, C.priorSeas),
    legendItem(N.postDaily, C.post, true), legendItem(N.postTrend, C.trend), legendItem(N.postSeas, C.postSeas)], 49, 13, [10, 28, 16, 11]),
  legend(2330, [legendItem(N.tropSeas, C.seas), legendItem(N.priorSeas, C.priorSeas), legendItem(N.postSeas, C.postSeas)], 49, 12, [18, 28, 18, 11])
]

const titles = [
  { text: '(a) Satellite daily medians and fitted seasonal cycle and trend', x: 220, align: 'left' },
  { text: '(b) Detrended satellite daily medians and fitted seasonal cycle', x: 1210, align: 'center' },
  { text: '(c) Modeled daily values and fitted seasonal cycle and trend', x: 1210, align: 'center' },
  { text: '(d) Detrended modeled daily values and fitted seasonal cycle', x: 1210, align: 'center' },
  { text: '(e) Detrended fitted seasonal cycles', x: 1210, align: 'center' }
]
const graphics = titles.map((t, i) => ({
  type: 'text', x: t.x, y: gridTops[i] - 42, silent: true,
  style: { text: t.text, fontSize: 50, fontFamily: FONT, fill: '#000', align: t.align, verticalAlign: 'middle',
    textAlign: t.align, textVerticalAlign: 'middle' }
}))
graphics.push({
  type: 'text', x: 1538, y: 50, silent: true,
  style: { text: 'Northern Finland', fontSize: 58, fontWeight: 'bold', fontFamily: FONT, fill: '#000',
    align: 'center', verticalAlign: 'middle', textAlign: 'center', textVerticalAlign: 'middle' }
})

const chart = echarts.init(document.getElementById('chart'))
chart.setOption({
  animation: false,
  backgroundColor: '#fff',
  grid: grids,
  xAxis: xAxes,
  yAxis: yAxes,
  legend: legends,
  graphic: graphics,
  series: series
})
</script>
</body>
</html>
